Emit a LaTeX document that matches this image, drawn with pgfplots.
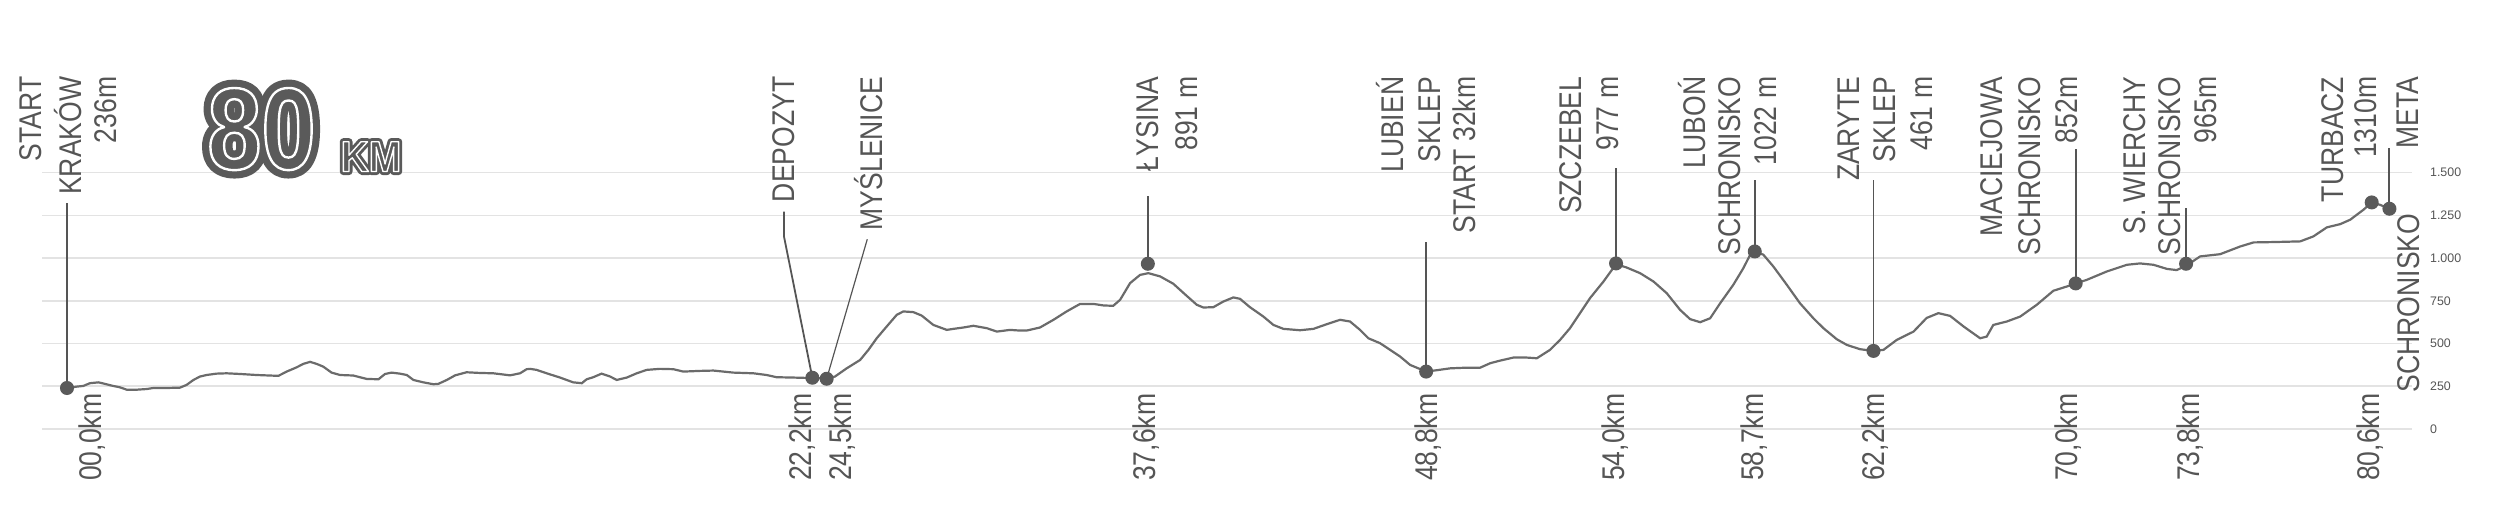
\documentclass[border=0pt]{standalone}
\usepackage{pgfplots}
\pgfplotsset{compat=1.18}
\usepackage{fontspec}
\setmainfont{Liberation Sans}
\newfontfamily\narrow{Liberation Sans}[FakeStretch=0.845]
\newfontfamily\bignum{Liberation Sans}[FakeStretch=0.84]
\newfontfamily\bigkm{Liberation Sans}[FakeStretch=0.9]
\definecolor{lab}{HTML}{555555}
\definecolor{prof}{HTML}{6B6B6B}
\definecolor{gridc}{HTML}{E3E3E3}
\definecolor{dark}{HTML}{5A5A5A}
\newcommand\lf{\narrow\fontsize{7.85bp}{9.25bp}\selectfont}
\newcommand\lab[3]{\node[rotate=90,anchor=base east,inner sep=0pt,text=lab,font=\lf] at (#1+11.25,#2) {#3};}
% outlined display text: dark fill + thick dark stroke, then thin white stroke on the glyph edge
\newcommand\outl[5]{%
 \node[text=dark,anchor=base,inner sep=0pt] at (#1,#2) {\special{pdf:literal direct 2 Tr #4 w 1 j 1 J}#3\special{pdf:literal direct 0 Tr}};
 \node[text=white,anchor=base,inner sep=0pt] at (#1,#2) {\special{pdf:literal direct 1 Tr #5 w 1 j 1 J}#3\special{pdf:literal direct 0 Tr}};}
\tikzset{leader/.style={draw=lab,line width=0.45bp}}

\pgfplotstableread{
km elev
0 240
0.34 248
0.57 252
0.80 268
1.10 273
1.33 264
1.56 254
1.85 244
2.09 230
2.44 230
2.79 234
3.02 240
3.48 240
3.95 242
4.18 258
4.42 287
4.65 307
4.88 316
5.23 324
5.58 326
6.05 322
6.63 316
7.39 311
7.68 336
8.03 361
8.26 381
8.50 393
8.73 381
8.96 365
9.25 330
9.55 316
10.01 313
10.24 303
10.48 293
10.89 291
11.12 322
11.35 330
11.64 324
11.88 316
12.11 287
12.46 273
12.81 262
12.98 264
13.28 287
13.57 314
13.97 332
14.44 328
14.91 326
15.49 314
15.84 326
16.07 350
16.19 352
16.42 346
16.77 326
17.24 301
17.70 273
18.00 268
18.17 291
18.40 303
18.69 324
18.99 307
19.22 287
19.57 301
19.92 326
20.27 346
20.73 352
21.20 350
21.55 336
22.13 340
22.60 342
23.30 330
24.00 326
24.46 316
24.81 303
25.40 301
26.06 298
26.56 295
26.85 307
27.26 355
27.73 404
28.02 463
28.31 531
28.66 600
29.01 668
29.24 688
29.59 684
29.88 664
30.29 609
30.76 580
30.99 586
31.34 594
31.69 604
32.16 590
32.51 570
32.97 580
33.32 576
33.55 576
34.02 594
34.49 639
34.95 688
35.42 732
35.89 732
36.24 723
36.58 721
36.82 756
37.17 854
37.52 902
37.81 912
38.22 893
38.68 850
39.15 779
39.50 727
39.73 711
40.08 713
40.43 746
40.78 770
41.01 762
41.36 713
41.83 658
42.18 609
42.53 586
43.11 578
43.58 586
44.04 613
44.51 639
44.86 629
45.21 580
45.50 531
45.91 502
46.26 463
46.61 424
46.96 375
47.52 336
47.89 344
48.36 355
48.94 359
49.41 359
49.76 385
50.10 400
50.57 418
51.04 418
51.39 414
51.85 463
52.20 521
52.55 590
52.90 678
53.25 766
53.72 863
54.16 965
54.53 945
55.00 912
55.47 863
55.93 795
56.40 697
56.75 643
57.10 625
57.45 648
57.80 736
58.26 844
58.61 941
58.85 1020
59.01 1039
59.31 1020
59.66 951
60.13 844
60.59 736
61.06 648
61.41 590
61.88 525
62.23 492
62.69 467
63.16 457
63.51 463
63.97 521
64.56 570
65.02 650
65.43 678
65.84 662
66.31 600
66.89 531
67.12 541
67.35 609
67.82 629
68.29 658
68.87 727
69.45 809
69.92 834
70.23 852
70.62 873
71.32 922
72.02 961
72.48 969
72.95 961
73.42 937
73.76 930
74.09 955
74.58 1010
75.28 1023
75.98 1068
76.45 1092
77.14 1094
78.08 1098
78.54 1127
79.01 1180
79.48 1199
79.83 1225
80.29 1283
80.58 1326
80.87 1312
81.20 1289
}\profile

\pgfplotstableread{
km elev
0 240
26.06 300
26.56 294
37.79 967
47.52 336
54.16 969
59.01 1039
63.16 457
70.23 852
74.09 967
80.58 1326
81.20 1289
}\points

\begin{document}
\begin{tikzpicture}
\useasboundingbox (0,0) rectangle (625bp,127.25bp);
\begin{axis}[
  at={(10.5bp,20bp)}, anchor=south west,
  scale only axis, width=592.43bp, height=64.075bp,
  xmin=-0.874, xmax=81.98, ymin=0, ymax=1500,
  clip=false,
  axis line style={draw=none},
  xtick=\empty,
  ytick={0,250,500,750,1000,1250,1500},
  yticklabels={0,250,500,750,1.000,1.250,1.500},
  yticklabel pos=right,
  major tick length=0pt,
  ymajorgrids,
  major grid style={draw=gridc, line width=0.4bp},
  yticklabel style={anchor=west, inner sep=0pt, xshift=4.4bp, font=\fontsize{3.1bp}{3.1bp}\selectfont, text=lab},
]
\addplot[draw=prof, line width=0.55bp, mark=none] table[x=km,y=elev] {\profile};
\draw[leader] (axis cs:0,245) -- (axis cs:0,1322.6);
\draw[leader] (axis cs:26.06,300) -- (axis cs:25.07,1125.4) -- (axis cs:25.07,1271.7);
\draw[leader,line width=0.3bp] (axis cs:26.56,294) -- (axis cs:27.98,1110.2);
\draw[leader] (axis cs:37.79,967) -- (axis cs:37.79,1363.6);
\draw[leader] (axis cs:47.52,336) -- (axis cs:47.52,1094.4);
\draw[leader,line width=0.3bp] (axis cs:54.16,969) -- (axis cs:54.16,1527.5);
\draw[leader] (axis cs:59.01,1039) -- (axis cs:59.01,1457.2);
\draw[leader] (axis cs:63.16,457) -- (axis cs:63.16,1457.2);
\draw[leader] (axis cs:70.23,852) -- (axis cs:70.23,1638.7);
\draw[leader] (axis cs:74.09,967) -- (axis cs:74.09,1293.4);
\draw[leader] (axis cs:81.19,1289) -- (axis cs:81.19,1642.8);
\addplot[only marks, mark=*, mark size=1.55bp, mark options={fill=dark, draw=dark}] table[x=km,y=elev] {\points};
\end{axis}
\begin{scope}[shift={(0bp,127.25bp)}, x=0.25bp, y=-0.25bp]
\outl{261.5}{169}{\bignum\fontsize{29bp}{29bp}\selectfont\bfseries 80}{4.2}{0.6}
\outl{371}{171.5}{\bigkm\fontsize{10.8bp}{10.8bp}\selectfont\bfseries KM}{1.8}{0.35}
\lab{30}{76}{START}
\lab{70.5}{76}{KRAKÓW}
\lab{105.7}{76}{236m}
\lab{783.3}{76}{DEPOZYT}
\lab{871}{76}{MYŚLENICE}
\lab{1147}{76}{ŁYSINA}
\lab{1186}{76}{891 m}
\lab{1392}{76}{LUBIEŃ}
\lab{1429}{76}{SKLEP}
\lab{1464}{76}{START 32km}
\lab{1570}{76}{SZCZEBEL}
\lab{1607.6}{76}{977 m}
\lab{1694}{76}{LUBOŃ}
\lab{1729.7}{76}{SCHRONISKO}
\lab{1765}{76}{1022 m}
\lab{1847.8}{76}{ZARYTE}
\lab{1884}{76}{SKLEP}
\lab{1921}{76}{461 m}
\lab{1991.5}{76}{MACIEJOWA}
\lab{2029.4}{76}{SCHRONISKO}
\lab{2066}{76}{852m}
\lab{2134}{76}{S. WIERCHY}
\lab{2169}{76}{SCHRONISKO}
\lab{2205.5}{76}{965m}
\lab{2331.8}{76}{TURBACZ}
\lab{2365.4}{76}{1310m}
\lab{2407}{76}{META}
\lab{2408}{213}{SCHRONISKO}
\lab{90}{393}{00,0km}
\lab{800}{393}{22,2km}
\lab{840}{393}{24,5km}
\lab{1144}{393}{37,6km}
\lab{1426}{393}{48,8km}
\lab{1613}{393}{54,0km}
\lab{1752}{393}{58,7km}
\lab{1873}{393}{62,2km}
\lab{2066}{393}{70,0km}
\lab{2188}{393}{73,8km}
\lab{2368}{393}{80,6km}
\end{scope}
\end{tikzpicture}
\end{document}
